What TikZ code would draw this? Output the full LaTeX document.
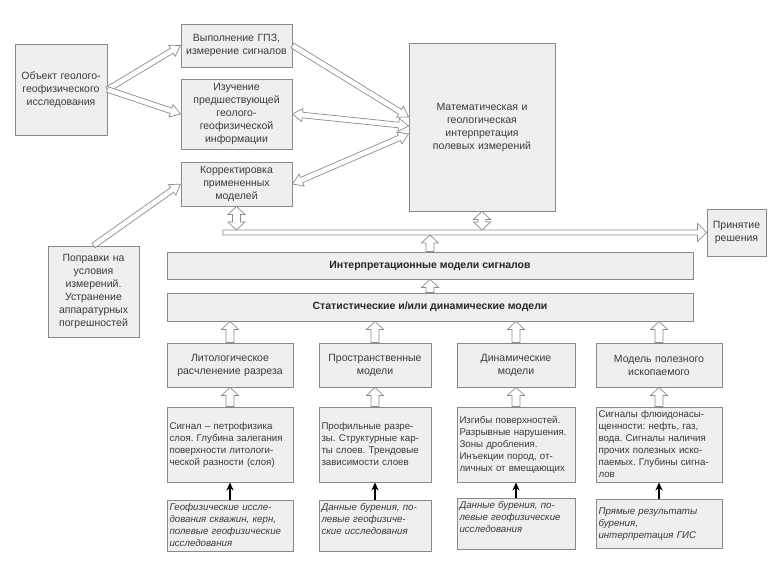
\documentclass[tikz,border=0pt]{standalone}
\usepackage{fontspec}
\setmainfont{Liberation Sans}
\usetikzlibrary{calc,arrows.meta}
\frenchspacing
\definecolor{boxfill}{HTML}{EFEFEF}
\definecolor{boxline}{HTML}{8A8A8A}
\definecolor{txt}{HTML}{3A3A3A}
\definecolor{arrline}{HTML}{8C8C8C}
\tikzset{
 box/.style={draw=boxline, fill=boxfill, line width=0.9pt, text=txt, align=center, inner sep=3pt,
   font=\fontsize{10.5}{13}\selectfont\frenchspacing},
 bar/.style={box, font=\fontsize{10.5}{13}\selectfont\bfseries, text=black!85},
 small/.style={box, align=left, inner sep=2pt, font=\fontsize{9.7}{12}\selectfont\frenchspacing},
 src/.style={box, align=left, inner sep=2pt, font=\fontsize{9.7}{12}\selectfont\itshape\frenchspacing},
 blk/.style={draw=arrline, fill=white, line width=0.7pt, line join=miter},
 darrow/.style={-{Stealth[length=8pt,width=7pt]}, line width=1.6pt, black}
}
% single-headed block arrow: from, to, shaft half width, head half width, head length
\newcommand\blkone[5]{%
 \path[blk] let \p1=(#1), \p2=(#2), \n1={atan2(\y2-\y1,\x2-\x1)}, \n2={veclen(\x2-\x1,\y2-\y1)} in
 [shift={(\p1)}, rotate=\n1] (0pt,-#3) -- (\n2-#5,-#3) -- (\n2-#5,-#4) -- (\n2,0pt) -- (\n2-#5,#4) -- (\n2-#5,#3) -- (0pt,#3) -- cycle;}
% double-headed block arrow
\newcommand\blktwo[5]{%
 \path[blk] let \p1=(#1), \p2=(#2), \n1={atan2(\y2-\y1,\x2-\x1)}, \n2={veclen(\x2-\x1,\y2-\y1)} in
 [shift={(\p1)}, rotate=\n1] (#5,-#3) -- (\n2-#5,-#3) -- (\n2-#5,-#4) -- (\n2,0pt) -- (\n2-#5,#4) -- (\n2-#5,#3) -- (#5,#3) -- (#5,#4) -- (0pt,0pt) -- (#5,-#4) -- cycle;}
\begin{document}
\begin{tikzpicture}[x=1pt, y=-1pt]
\fill[white] (0,0) rectangle (780,574);
\useasboundingbox (0,0) rectangle (780,574);

% top area
\node[box, minimum width=92pt, minimum height=91pt, text width=86pt] (obj) at (61,89.5)
  {Объект геолого-\\геофизического\\исследования};
\node[box, minimum width=111pt, minimum height=43pt, text width=105pt] (gpz) at (236.5,45.5)
  {Выполнение ГПЗ,\\измерение сигналов};
\node[box, minimum width=111pt, minimum height=70pt, text width=105pt] (izuch) at (236.5,114)
  {Изучение\\предшествующей\\геолого-\\геофизической\\информации};
\node[box, minimum width=111pt, minimum height=44pt, text width=105pt] (korr) at (236.5,184)
  {Корректировка\\примененных\\моделей};
\node[box, minimum width=146pt, minimum height=168pt, text width=140pt] (math) at (482,127)
  {Математическая и\\геологическая\\интерпретация\\полевых измерений};
\node[box, minimum width=59pt, minimum height=47pt, text width=55pt, inner sep=2pt] (prin) at (736.5,232.5)
  {Принятие\\решения};
\node[box, minimum width=91pt, minimum height=91pt, text width=85pt] (popr) at (93.5,291.5)
  {Поправки на\\условия\\измерений.\\Устранение\\аппаратурных\\погрешностей};

% bars
\node[bar, minimum width=526pt, minimum height=27pt] (interp) at (430,265.5)
  {Интерпретационные модели сигналов};
\node[bar, minimum width=526pt, minimum height=28pt] (stat) at (430,307)
  {Статистические и/или динамические модели};

% row 1
\node[box, minimum width=126pt, minimum height=44pt, text width=120pt] (lit) at (230,365)
  {Литологическое\\расчленение разреза};
\node[box, minimum width=112pt, minimum height=44pt, text width=106pt] (prost) at (375,365)
  {Пространственные\\модели};
\node[box, minimum width=118pt, minimum height=44pt, text width=112pt] (din) at (516,365)
  {Динамические\\модели};
\node[box, minimum width=126pt, minimum height=44pt, text width=120pt] (mod) at (659,365)
  {Модель полезного\\ископаемого};

% row 2
\node[small, minimum width=126pt, minimum height=75pt, text width=121pt] (lit2) at (230,444.5)
  {Сигнал – петрофизика\\слоя. Глубина залегания\\поверхности литологи-\\ческой разности (слоя)};
\node[small, minimum width=112pt, minimum height=75pt, text width=107pt] (prost2) at (375,444.5)
  {Профильные разре-\\зы. Структурные кар-\\ты слоев. Трендовые\\зависимости слоев};
\node[small, minimum width=118pt, minimum height=75pt, text width=113pt] (din2) at (516,444.5)
  {Изгибы поверхностей.\\Разрывные нарушения.\\Зоны дробления.\\Инъекции пород, от-\\личных от вмещающих};
\node[small, minimum width=126pt, minimum height=75pt, text width=121pt] (mod2) at (659,444.5)
  {Сигналы флюидонасы-\\щенности: нефть, газ,\\вода. Сигналы наличия\\прочих полезных иско-\\паемых. Глубины сигна-\\лов};

% row 3
\node[src, minimum width=126pt, minimum height=51pt, text width=121pt] (lit3) at (230,526)
  {\parbox[c][45pt][t]{\linewidth}{Геофизические иссле-\\дования скважин, керн,\\полевые геофизические\\исследования}};
\node[src, minimum width=112pt, minimum height=51pt, text width=107pt] (prost3) at (375,526)
  {\parbox[c][45pt][t]{\linewidth}{Данные бурения, по-\\левые геофизиче-\\ские исследования}};
\node[src, minimum width=118pt, minimum height=51pt, text width=113pt] (din3) at (516,524)
  {\parbox[c][45pt][t]{\linewidth}{Данные бурения, по-\\левые геофизические\\исследования}};
\node[src, minimum width=126pt, minimum height=49pt, text width=121pt] (mod3) at (659,524)
  {\parbox[c][43pt][c]{\linewidth}{Прямые результаты\\бурения,\\интерпретация ГИС}};

% helper coordinates for the long line
\coordinate (linestart) at (223,232.5);
\coordinate (linetop) at (0,230);
\coordinate (linebot) at (0,235);

% diagonal block arrows
\blkone{obj.east}{gpz.west}{2.8pt}{6.5pt}{10pt}
\blkone{obj.east}{izuch.west}{2.8pt}{6.5pt}{10pt}
\blkone{gpz.east}{$(math.west)+(0,-10)$}{2.8pt}{6.5pt}{10pt}
\blktwo{izuch.east}{$(math.west)+(0,-1)$}{2.8pt}{6.5pt}{10pt}
\blktwo{korr.east}{$(math.west)+(0,7)$}{2.8pt}{6.5pt}{10pt}
\blkone{popr.north}{korr.west}{2.8pt}{6.5pt}{10pt}

% long horizontal line to decision
\blkone{linestart}{prin.west}{2.5pt}{9pt}{9pt}

% vertical block arrows
\blktwo{korr.south}{korr.south |- linetop}{4pt}{8.5pt}{8pt}
\blktwo{math.south}{math.south |- linetop}{4pt}{8.5pt}{8pt}
\blkone{interp.north}{interp.north |- linebot}{4pt}{8.5pt}{8pt}
\blkone{stat.north}{interp.south}{4pt}{8.5pt}{8pt}
\foreach \nm in {lit,prost,din,mod}{
  \blkone{\nm.north}{\nm.north |- stat.south}{4pt}{8.5pt}{8pt}
  \blkone{\nm2.north}{\nm.south}{4pt}{8.5pt}{8pt}
  \draw[darrow] (\nm3.north) -- (\nm2.south);
}
\end{tikzpicture}
\end{document}
